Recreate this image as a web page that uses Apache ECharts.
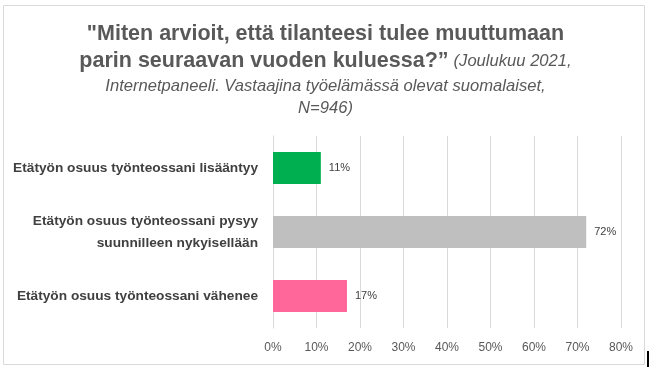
<!DOCTYPE html>
<html><head><meta charset="utf-8">
<script src="https://cdn.jsdelivr.net/npm/echarts@6/dist/echarts.min.js"></script>
<style>html,body{margin:0;padding:0;background:#fff}#c{width:651px;height:370px}</style>
</head><body><div id="c"></div>
<script>
const categories = [
  'Etätyön osuus työnteossani lisääntyy',
  'Etätyön osuus työnteossani pysyy\nsuunnilleen nykyisellään',
  'Etätyön osuus työnteossani vähenee'
];
const values = [11, 72, 17];
const colors = ['#00B050', '#BFBFBF', '#FF6699'];
const tickLabels = ['0%','10%','20%','30%','40%','50%','60%','70%','80%'];

const FONT = '"Liberation Sans", "DejaVu Sans", sans-serif';
const chart = echarts.init(document.getElementById('c'));
chart.setOption({
  animation: false,
  title: {
    left: 'center', top: 16,
    text: '{b|"Miten arvioit, että tilanteesi tulee muuttumaan}\n{b|parin seuraavan vuoden kuluessa?”} {i|(Joulukuu 2021,}\n{i|Internetpaneeli. Vastaajina työelämässä olevat suomalaiset,}\n{i|N=946)}',
    textStyle: {
      fontFamily: FONT, fontWeight: 'normal',
      rich: {
        b: {fontSize: 21.5, fontWeight: 'bold', color: '#595959', fontFamily: FONT, lineHeight: 27},
        i: {fontSize: 16.6, fontStyle: 'italic', fontWeight: 'normal', color: '#595959', fontFamily: FONT, lineHeight: 22}
      }
    }
  },
  graphic: [{
    type: 'rect', shape: {x: 3.5, y: 5.5, width: 641, height: 359},
    style: {fill: 'none', stroke: '#D9D9D9', lineWidth: 1}, silent: true
  }, {
    type: 'rect', shape: {x: 647, y: 351, width: 2, height: 16},
    style: {fill: '#000'}, silent: true
  }],
  grid: {left: 273, right: 30, top: 136, bottom: 42, containLabel: false},
  xAxis: {
    type: 'value', min: 0, max: 80, interval: 10,
    axisLine: {show: false}, axisTick: {show: false},
    splitLine: {lineStyle: {color: '#D9D9D9', width: 1}},
    axisLabel: {
      color: '#595959', fontSize: 12, fontFamily: FONT, margin: 14,
      formatter: (v) => tickLabels[Math.round(v / 10)]
    }
  },
  yAxis: {
    type: 'category', inverse: true, data: categories,
    axisLine: {show: true, lineStyle: {color: '#D9D9D9'}}, axisTick: {show: false},
    axisLabel: {
      color: '#404040', fontSize: 13.7, fontWeight: 'bold', fontFamily: FONT,
      margin: 15, lineHeight: 22, align: 'right'
    }
  },
  series: [{
    type: 'bar', barWidth: '50%',
    data: values.map((v, i) => ({value: v, itemStyle: {color: colors[i]}})),
    label: {
      show: true, position: 'right', distance: 8,
      color: '#404040', fontSize: 11, fontFamily: FONT,
      formatter: (p) => p.value + '%'
    }
  }]
});
</script></body></html>
